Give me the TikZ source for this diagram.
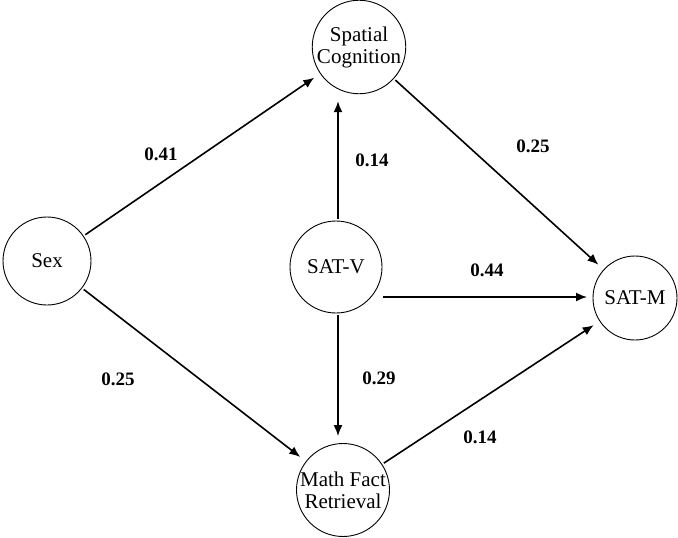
\documentclass[tikz,border=0pt]{standalone}
\usepackage{fontspec}
\setmainfont{Liberation Serif}
\usetikzlibrary{arrows.meta}
\begin{document}
\begin{tikzpicture}[x=1pt,y=-1pt,
  var/.style={draw,circle,line width=0.9pt,minimum size=90pt,inner sep=0pt,align=center,font=\fontsize{21}{22}\selectfont},
  path/.style={line width=1.6pt,-{Latex[length=11pt,width=9pt]},shorten >=7pt,shorten <=2pt},
  coef/.style={font=\fontsize{19}{21}\selectfont\bfseries}]
\useasboundingbox (0,0) rectangle (678,538);
\node[var] (sp) at (359,47) {Spatial\\Cognition};
\node[var,minimum size=88pt] (sex) at (47,261) {Sex};
\node[var,minimum size=92pt] (sv) at (336,267) {SAT-V};
\node[var,minimum size=84pt] (sm) at (635,298) {SAT-M};
\node[var] (mf) at (343,490) {Math Fact\\Retrieval};
\coordinate (svr) at (383,297);
\coordinate (smr) at (594,297);
\draw[path] (sex) -- (sp);
\draw[path] (sp) -- (sm);
\draw[path] (sv.north -| 338,0) -- (sp.south -| 338,0);
\draw[path] (sv.south -| 338,0) -- (mf.north -| 338,0);
\draw[path,shorten <=0pt] (svr) -- (smr);
\draw[path] (sex) -- (mf);
\draw[path] (mf) -- (sm);
\node[coef] (l1) at (161,154) {0.41};
\node[coef] (l2) at (372,160) {0.14};
\node[coef] (l3) at (533,146) {0.25};
\node[coef] (l4) at (487,270) {0.44};
\node[coef] (l5) at (118,379) {0.25};
\node[coef] (l6) at (379,378) {0.29};
\node[coef] (l7) at (480,437) {0.14};
\end{tikzpicture}
\end{document}
